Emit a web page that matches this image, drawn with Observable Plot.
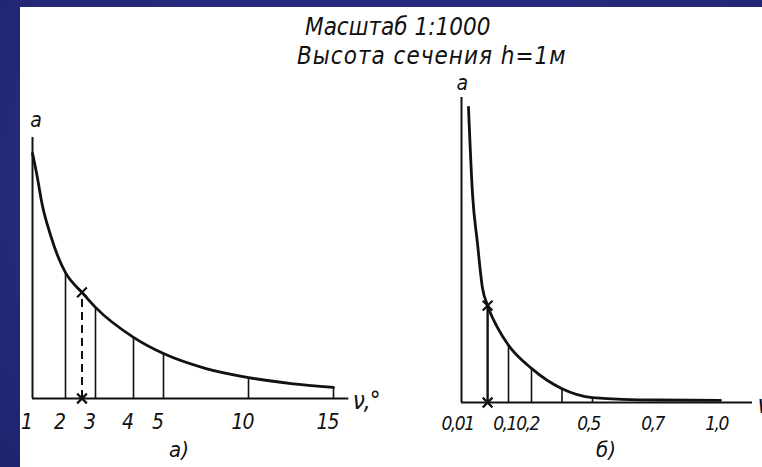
<!DOCTYPE html>
<html>
<head>
<meta charset="utf-8">
<script src="https://cdn.jsdelivr.net/npm/d3@7"></script>
<script src="https://cdn.jsdelivr.net/npm/@observablehq/plot@0.6"></script>
<style>
html, body { margin: 0; padding: 0; }
body { width: 762px; height: 467px; overflow: hidden; position: relative;
  background: radial-gradient(ellipse at 50% 40%, #2c3290 0%, #252a7c 60%, #1f2470 100%);
  font-family: "DejaVu Sans Condensed", "DejaVu Sans", sans-serif; }
#panel { position: absolute; left: 20px; top: 7px; width: 742px; height: 460px; background: #fff; }
.chart { position: absolute; left: 0; top: 0; width: 762px; height: 467px; }
.chart text { letter-spacing: -1px; }
#chartB text { letter-spacing: -1.5px; }
.t { position: absolute; font-style: italic; color: #111; white-space: nowrap; line-height: 1; }
</style>
</head>
<body>
<div id="panel"></div>
<div class="t" style="left:305px; top:15px; font-size:24px;">Масштаб 1:1000</div>
<div class="t" style="left:297px; top:44px; font-size:24px; letter-spacing:1px;">Высота сечения h=1м</div>
<div id="chartA" class="chart"></div>
<div id="chartB" class="chart"></div>
<div class="t" style="left:169px; top:439px; font-size:22px;">а)</div>
<div class="t" style="left:596px; top:439px; font-size:22px;">б)</div>
<script>
// ---- Chart а) : scale of layings for slope angles (degrees) ----
const anglesA = [2, 3, 4, 5, 10, 15];
const layA = [29.4, 21.3, 14.3, 10.5, 4.9, 2.6];
const tickAnglesA = [1, 2, 3, 4, 5, 10, 15];
const tickLabelsA = ["1", "2", "3", "4", "5", "10", "15"];
const curveAngleA = [1, 1.12, 1.3, 1.55, 1.76, 2, 2.55, 3, 4, 5, 7.5, 10, 12.5, 15];
const curveLayA = [57.3, 52.8, 45.1, 38.1, 33.4, 29.4, 24.8, 21.3, 14.3, 10.5, 7.0, 4.9, 3.5, 2.6];
const markAngleA = 2.55;
const markLayA = 24.8;
const axisEndA = 15.9;
const axisTopA = 61;

// ---- Chart б) : scale of layings for slopes ----
const slopesB = [0.1, 0.2, 0.35, 0.5];
const layB = [10.4, 6.2, 2.5, 0.9];
const tickSlopesB = [0.01, 0.1, 0.2, 0.5, 0.7, 1.0];
const tickLabelsB = ["0,01", "0,1", "0,2", "0,5", "0,7", "1,0"];
const curveSlopeB = [0.0234, 0.031, 0.0406, 0.05, 0.06, 0.079, 0.1, 0.2, 0.35, 0.5, 0.7, 1.0];
const curveLayB = [53.6, 38, 28.9, 20.9, 17.6, 13.6, 10.4, 6.2, 2.5, 0.9, 0.45, 0.4];
const markSlopeB = 0.06;
const markLayB = 17.6;
const axisEndB = 1.15;
const axisTopB = 55.4;

const FONT = "DejaVu Sans Condensed, DejaVu Sans, sans-serif";
const ink = "#111";

function zip(xs, ys) { return xs.map((x, i) => ({x, y: ys[i]})); }

const plotA = Plot.plot({
  width: 762, height: 467, margin: 0,
  style: {background: "transparent", fontFamily: FONT, overflow: "visible"},
  x: {type: "linear", domain: tickAnglesA, range: [32, 65, 95, 133, 163, 248, 333], axis: null},
  y: {type: "linear", domain: [0, axisTopA], range: [398, 137], axis: null},
  marks: [
    Plot.ruleX([1], {y1: 0, y2: axisTopA, stroke: ink, strokeWidth: 2}),
    Plot.ruleY([0], {x1: 1, x2: axisEndA, stroke: ink, strokeWidth: 2}),
    Plot.ruleX(zip(anglesA, layA), {x: "x", y1: 0, y2: "y", stroke: ink, strokeWidth: 1.6}),
    Plot.ruleX([{x: markAngleA, y: markLayA}], {x: "x", y1: 0, y2: "y", stroke: ink, strokeWidth: 2, strokeDasharray: "8,5"}),
    Plot.line(zip(curveAngleA, curveLayA), {x: "x", y: "y", curve: "monotone-x", stroke: ink, strokeWidth: 2.8}),
    Plot.dot([{x: markAngleA, y: markLayA}, {x: markAngleA, y: 0}], {x: "x", y: "y", symbol: "times", r: 4.5, stroke: ink, strokeWidth: 2.2}),
    Plot.text(zip(tickAnglesA, tickLabelsA), {x: "x", y: 0, text: "y", dy: 24, dx: -6, fontSize: 21, fontStyle: "italic", fill: ink}),
    Plot.text(["ν,°"], {x: axisEndA, y: 0, text: d => d, dx: 4, dy: 3, textAnchor: "start", fontSize: 24, fontStyle: "italic", fill: ink}),
    Plot.text(["a"], {x: 1, y: axisTopA, text: d => d, dy: -17, dx: 3, fontSize: 21, fontStyle: "italic", fill: ink})
  ]
});
document.getElementById("chartA").appendChild(plotA);

const plotB = Plot.plot({
  width: 762, height: 467, margin: 0,
  style: {background: "transparent", fontFamily: FONT, overflow: "visible"},
  x: {type: "linear", domain: tickSlopesB, range: [461, 508, 531, 592, 656, 720], axis: null},
  y: {type: "linear", domain: [0, axisTopB], range: [402, 97], axis: null},
  marks: [
    Plot.ruleX([0.01], {y1: 0, y2: axisTopB, stroke: ink, strokeWidth: 2}),
    Plot.ruleY([0], {x1: 0.01, x2: axisEndB, stroke: ink, strokeWidth: 2}),
    Plot.ruleX(zip(slopesB, layB), {x: "x", y1: 0, y2: "y", stroke: ink, strokeWidth: 1.6}),
    Plot.ruleX([{x: markSlopeB, y: markLayB}], {x: "x", y1: 0, y2: "y", stroke: ink, strokeWidth: 2.4}),
    Plot.line(zip(curveSlopeB, curveLayB), {x: "x", y: "y", curve: "monotone-x", stroke: ink, strokeWidth: 2.8}),
    Plot.dot([{x: markSlopeB, y: markLayB}, {x: markSlopeB, y: 0}], {x: "x", y: "y", symbol: "times", r: 4.5, stroke: ink, strokeWidth: 2.2}),
    Plot.text(zip(tickSlopesB, tickLabelsB), {x: "x", y: 0, text: "y", dy: 21, dx: -4, fontSize: 19, fontStyle: "italic", fill: ink}),
    Plot.text(["ν"], {x: axisEndB, y: 0, text: d => d, dx: 5, dy: 3, textAnchor: "start", fontSize: 24, fontStyle: "italic", fill: ink}),
    Plot.text(["a"], {x: 0.01, y: axisTopB, text: d => d, dy: -14, fontSize: 21, fontStyle: "italic", fill: ink})
  ]
});
document.getElementById("chartB").appendChild(plotB);
</script>
</body>
</html>
